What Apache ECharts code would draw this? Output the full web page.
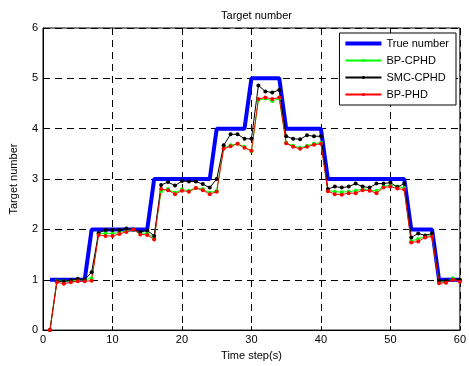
<!DOCTYPE html>
<html>
<head>
<meta charset="utf-8">
<script src="https://cdn.jsdelivr.net/npm/echarts@6/dist/echarts.min.js"></script>
<style>
html,body{margin:0;padding:0;background:#fff;}
#c{width:469px;height:366px;}
</style>
</head>
<body>
<div id="c"></div>
<script>
var steps = [];
for (var i = 1; i <= 60; i++) steps.push(i);

var trueNumber = [1,1,1,1,1,1, 2,2,2,2,2,2,2,2,2, 3,3,3,3,3,3,3,3,3, 4,4,4,4,4, 5,5,5,5,5, 4,4,4,4,4,4, 3,3,3,3,3,3,3,3,3,3,3,3, 2,2,2,2, 1,1,1,1];

var bpCPHD = [0, 0.98,0.97,0.98,0.99,1.0,1.03,
  1.92,1.92,1.92,1.94,1.97,2.0,1.93,1.92,1.83,
  2.76,2.8,2.73,2.79,2.77,2.82,2.8,2.73,2.77,
  3.62,3.67,3.7,3.64,3.55,
  4.57,4.6,4.55,4.6,
  3.72,3.66,3.62,3.66,3.7,3.72,
  2.77,2.75,2.74,2.75,2.77,2.8,2.78,2.77,2.85,2.88,2.85,2.82,
  1.77,1.81,1.86,1.88,
  0.95,0.96,1.03,0.98];

var smcCPHD = [0, 0.97,0.97,0.99,1.02,1.0,1.15,
  1.93,1.99,1.99,1.99,2.02,2.0,1.95,1.98,1.87,
  2.88,2.94,2.87,2.96,2.95,2.95,2.9,2.83,3.0,
  3.67,3.89,3.89,3.8,3.8,
  4.86,4.74,4.72,4.77,
  3.85,3.8,3.79,3.87,3.85,3.85,
  2.8,2.85,2.83,2.85,2.91,2.85,2.83,2.91,2.91,2.93,2.84,2.91,
  1.84,1.92,1.88,1.92,
  0.98,0.98,1.0,1.0];

var bpPHD = [0, 0.95,0.92,0.95,0.97,0.97,0.98,
  1.89,1.87,1.87,1.91,1.95,2.0,1.9,1.89,1.8,
  2.8,2.78,2.7,2.77,2.75,2.82,2.78,2.7,2.75,
  3.6,3.65,3.7,3.62,3.56,
  4.59,4.62,4.59,4.62,
  3.71,3.64,3.6,3.64,3.68,3.7,
  2.76,2.7,2.69,2.72,2.72,2.78,2.77,2.72,2.83,2.85,2.81,2.79,
  1.74,1.76,1.84,1.86,
  0.93,0.94,1.0,0.96];

var xTicks = [0,10,20,30,40,50,60];
var yTicks = [0,1,2,3,4,5,6];

function pairs(vals){ return steps.map(function(s,i){ return [s, vals[i]]; }); }

var FONT = 'Liberation Sans, Arial, sans-serif';
var dash = [7,5];

var chart = echarts.init(document.getElementById('c'), null, {renderer:'canvas'});
chart.setOption({
  animation: false,
  backgroundColor: '#fff',
  textStyle: {fontFamily: FONT, color:'#000'},
  title: {
    text: 'Target number', left: 251.5, top: 5, textAlign: 'center',
    textStyle: {fontSize: 11, fontWeight: 'normal', color: '#000', fontFamily: FONT}
  },
  grid: {left: 42, right: 8, top: 28, bottom: 31, show: true, borderColor: '#000', borderWidth: 1, backgroundColor:'#fff'},
  legend: {
    orient: 'vertical', right: 13, top: 33,
    backgroundColor: '#fff', borderColor: '#000', borderWidth: 1,
    padding: [5, 7, 5, 5], itemGap: 6, itemWidth: 36, itemHeight: 4,
    textStyle: {fontSize: 11, color: '#000', fontFamily: FONT, padding:[0,0,0,0]},
    data: [
      {name:'True number', icon:'rect'},
      'BP-CPHD','SMC-CPHD','BP-PHD'
    ]
  },
  xAxis: {
    type: 'value', min: xTicks[0], max: xTicks[xTicks.length-1], interval: 10,
    name: 'Time step(s)', nameLocation: 'middle', nameGap: 16,
    nameTextStyle: {fontSize: 11, color:'#000', fontFamily: FONT},
    axisLine: {show: true, onZero: false, lineStyle: {color:'#000'}},
    axisTick: {show: true, inside: true, length: 4, lineStyle:{color:'#000'}},
    axisLabel: {fontSize: 11, color:'#000', margin: 4, fontFamily: FONT},
    splitLine: {show: true, lineStyle: {color:'#000', type: dash, width: 1}}
  },
  yAxis: {
    type: 'value', min: yTicks[0], max: yTicks[yTicks.length-1], interval: 1,
    name: 'Target number', nameLocation: 'middle', nameGap: 24,
    nameTextStyle: {fontSize: 11, color:'#000', fontFamily: FONT},
    axisLine: {show: true, onZero: false, lineStyle: {color:'#000'}},
    axisTick: {show: true, inside: true, length: 4, lineStyle:{color:'#000'}},
    axisLabel: {fontSize: 11, color:'#000', margin: 5, fontFamily: FONT},
    splitLine: {show: true, lineStyle: {color:'#000', type: dash, width: 1}}
  },
  series: [
    {name:'True number', type:'line', data: pairs(trueNumber), symbol:'none',
     lineStyle:{color:'#0000ff', width:4}, itemStyle:{color:'#0000ff'}},
    {name:'BP-CPHD', type:'line', data: pairs(bpCPHD), symbol:'circle', symbolSize:4,
     lineStyle:{color:'#00ff00', width:1}, itemStyle:{color:'#00ff00'}},
    {name:'SMC-CPHD', type:'line', data: pairs(smcCPHD), symbol:'circle', symbolSize:4,
     lineStyle:{color:'#000000', width:1}, itemStyle:{color:'#000000'}},
    {name:'BP-PHD', type:'line', data: pairs(bpPHD), symbol:'circle', symbolSize:4,
     lineStyle:{color:'#ff0000', width:1}, itemStyle:{color:'#ff0000'}}
  ]
});
</script>
</body>
</html>
